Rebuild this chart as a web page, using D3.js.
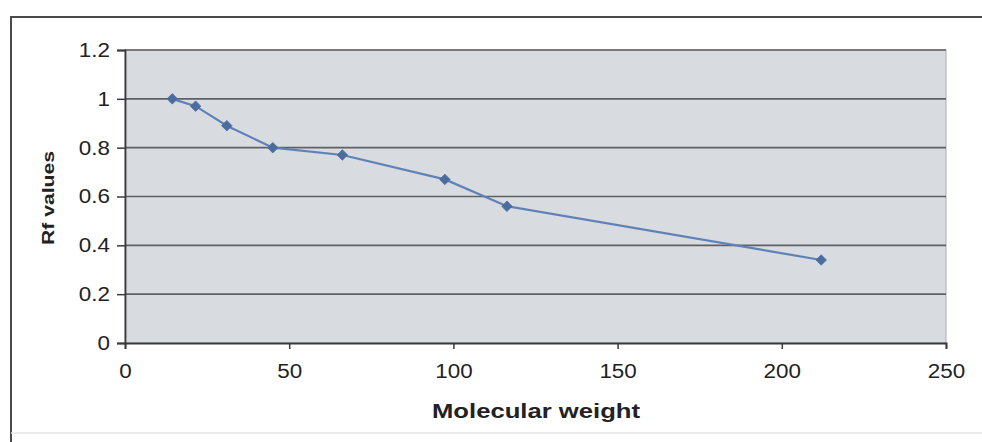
<!DOCTYPE html>
<html>
<head>
<meta charset="utf-8">
<script src="https://cdn.jsdelivr.net/npm/d3@7"></script>
<style>
  body { margin: 0; background: #fff; }
  text { font-family: "Liberation Sans", Arial, sans-serif; fill: #222; }
</style>
</head>
<body>
<div id="rfChart"></div>
<script>
// data
var molWeight = [14.4, 21.5, 31, 45, 66.2, 97.4, 116.3, 212];
var rfValues  = [1.0, 0.97, 0.89, 0.80, 0.77, 0.67, 0.56, 0.34];
var xTicks = [0, 50, 100, 150, 200, 250];
var yTicks = [0, 0.2, 0.4, 0.6, 0.8, 1, 1.2];

var width = 982;
var height = 442;
var plotLeft = 125, plotRight = 946, plotTop = 50, plotBottom = 343;

var svg = d3.select("#rfChart")
            .append("svg")
            .attr("width", width)
            .attr("height", height);

// outer frame (left + top only, bottom is faint)
svg.append("path")
   .attr("d", "M11,442 L11,17 L982,17")
   .attr("fill", "none")
   .attr("stroke", "#4a4a4a")
   .attr("stroke-width", 2);
svg.append("line")
   .attr("x1", 11).attr("x2", 982)
   .attr("y1", 433).attr("y2", 433)
   .attr("stroke", "#e4e4e4")
   .attr("stroke-width", 1.5);

var x = d3.scaleLinear().domain([0, 250]).range([plotLeft, plotRight]);
var y = d3.scaleLinear().domain([0, 1.2]).range([plotBottom, plotTop]);

// plot area background
svg.append("rect")
   .attr("x", plotLeft)
   .attr("y", plotTop)
   .attr("width", plotRight - plotLeft)
   .attr("height", plotBottom - plotTop)
   .attr("fill", "#d8dbe0")
   .attr("stroke", "#a8abb0")
   .attr("stroke-width", 1);

// horizontal grid
svg.selectAll("gridLines")
   .data(yTicks.filter(function(d){ return d > 0; }))
   .enter()
   .append("line")
   .attr("x1", plotLeft)
   .attr("x2", plotRight)
   .attr("y1", function(d){ return y(d); })
   .attr("y2", function(d){ return y(d); })
   .attr("stroke", "#5e6064")
   .attr("stroke-width", 1.6);

// axes
var xAxis = svg.append("g")
   .attr("transform", "translate(0," + plotBottom + ")")
   .call(d3.axisBottom(x).tickValues(xTicks).tickSize(6).tickPadding(15).tickFormat(d3.format("d")));

var yAxis = svg.append("g")
   .attr("transform", "translate(" + plotLeft + ",0)")
   .call(d3.axisLeft(y).tickValues(yTicks).tickSize(8).tickPadding(7).tickFormat(function(d){ return d3.format("")(+d.toFixed(1)); }));

[xAxis, yAxis].forEach(function(ax){
  ax.select(".domain").attr("stroke", "#3a3a3a").attr("stroke-width", 1.8);
  ax.selectAll(".tick line").attr("stroke", "#3a3a3a").attr("stroke-width", 1.5);
  ax.selectAll(".tick text")
    .attr("font-size", "20px")
    .attr("font-family", "Liberation Sans, Arial, sans-serif")
    .attr("fill", "#1e1e1e")
    .each(function(){
      // the scan is a bit stretched sideways
      var w = this.getComputedTextLength();
      d3.select(this).attr("textLength", w * 1.12).attr("lengthAdjust", "spacingAndGlyphs");
    });
});

// the series line
var points = molWeight.map(function(d, i){ return [d, rfValues[i]]; });
svg.append("path")
   .datum(points)
   .attr("fill", "none")
   .attr("stroke", "#5f82b6")
   .attr("stroke-width", 2.2)
   .attr("d", d3.line()
               .x(function(d){ return x(d[0]); })
               .y(function(d){ return y(d[1]); }));

// diamond markers
svg.selectAll("markers")
   .data(points)
   .enter()
   .append("path")
   .attr("transform", function(d){ return "translate(" + x(d[0]) + "," + y(d[1]) + ")"; })
   .attr("d", d3.symbol().type(d3.symbolDiamond2).size(70))
   .attr("fill", "#4c6c9e")
   .attr("stroke", "#4c6c9e")
   .attr("stroke-width", 0.8);

// axis titles
svg.append("text")
   .attr("x", 536)
   .attr("y", 418)
   .attr("text-anchor", "middle")
   .attr("font-size", "20px")
   .attr("font-weight", "bold")
   .attr("textLength", 208)
   .attr("lengthAdjust", "spacingAndGlyphs")
   .text("Molecular weight");

svg.append("text")
   .attr("transform", "translate(54,198) rotate(-90)")
   .attr("text-anchor", "middle")
   .attr("font-size", "16px")
   .attr("font-weight", "bold")
   .attr("textLength", 94)
   .attr("lengthAdjust", "spacingAndGlyphs")
   .text("Rf values");
</script>
</body>
</html>
